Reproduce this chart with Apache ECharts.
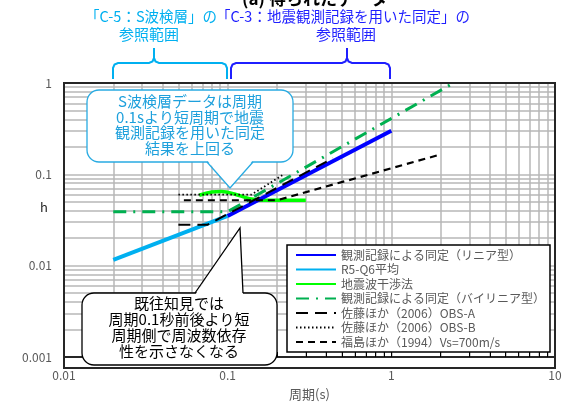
<!DOCTYPE html>
<html>
<head>
<meta charset="utf-8">
<script src="https://cdn.jsdelivr.net/npm/echarts@6/dist/echarts.min.js"></script>
<style>
  html, body { margin: 0; padding: 0; background: #fff; }
  #container { width: 567px; height: 406px; }
</style>
</head>
<body>
<div id="container"></div>
<script>
;(function() {

  var dom = document.getElementById('container')
  var myChart = echarts.init(dom)
  var FONT = '"Noto Sans CJK JP", "Noto Sans", sans-serif'

  // series names (legend order)
  var names = [
    '観測記録による同定（リニア型）',
    'R5-Q6平均',
    '地震波干渉法',
    '観測記録による同定（バイリニア型）',
    '佐藤ほか（2006）OBS-A',
    '佐藤ほか（2006）OBS-B',
    '福島ほか（1994）Vs=700m/s'
  ]

  // period (s) / damping h
  var linearT = [0.1, 1]
  var linearH = [0.035, 0.3]
  var r5q6T = [0.02, 0.1]
  var r5q6H = [0.0116, 0.035]
  var interfT = [0.067, 0.08, 0.092, 0.11, 0.136, 0.17, 0.3]
  var interfH = [0.059, 0.064, 0.065, 0.061, 0.054, 0.052, 0.052]
  var bilinT = [0.02, 0.1, 2.4]
  var bilinH = [0.039, 0.039, 1]
  var satoAT = [0.05, 0.075, 0.44]
  var satoAH = [0.028, 0.028, 0.15]
  var satoBT = [0.05, 0.14, 0.22]
  var satoBH = [0.06, 0.06, 0.1]
  var fukuT = [0.054, 0.2, 2]
  var fukuH = [0.052, 0.052, 0.165]

  var xTicks = [0.01, 0.1, 1, 10]
  var yTicks = [0.001, 0.01, 0.1, 1]

  function pairs(t, h) {
    var out = []
    for (var i = 0; i < t.length; i++) out.push([t[i], h[i]])
    return out
  }

  function line(name, t, h, color, width, type, z, smooth) {
    return {
      name: name,
      type: 'line',
      data: pairs(t, h),
      symbol: 'none',
      smooth: smooth || false,
      z: z,
      lineStyle: { color: color, width: width, type: type },
      itemStyle: { color: color }
    }
  }

  var series = [
    line(names[1], r5q6T, r5q6H, '#00b0f0', 4, 'solid', 2),
    line(names[0], linearT, linearH, '#0000ff', 4, 'solid', 3),
    line(names[2], interfT, interfH, '#00ff00', 3.5, 'solid', 2, 0.4),
    line(names[3], bilinT, bilinH, '#00b050', 3, [13, 7, 2, 7], 4),
    line(names[4], satoAT, satoAH, '#000000', 2, [12, 7], 5),
    line(names[5], satoBT, satoBH, '#000000', 1.8, [1.5, 2.5], 5),
    line(names[6], fukuT, fukuH, '#000000', 2.2, [7, 5], 5)
  ]

  // curly brace as a polyline (annotation shape)
  function brace(x0, x1, xp, color) {
    var yb = 79, yh = 63, yp = 48
    return {
      type: 'polyline', z: 60, silent: true,
      shape: { points: [[x0, yb], [x0, yh + 5], [x0 + 1.5, yh + 1.5], [x0 + 5, yh],
        [xp - 5, yh], [xp - 1.5, yh - 1.5], [xp, yh - 5], [xp, yp], [xp, yh - 5],
        [xp + 1.5, yh - 1.5], [xp + 5, yh], [x1 - 5, yh], [x1 - 1.5, yh + 1.5], [x1, yh + 5], [x1, yb]] },
      style: { fill: 'none', stroke: color, lineWidth: 2 }
    }
  }

  // speech bubble: rounded box + pointer
  function bubble(x, y, w, h, base0, tip, base1, color, baseY) {
    return [
      { type: 'rect', z: 60, silent: true, shape: { x: x, y: y, width: w, height: h, r: 12 },
        style: { fill: '#ffffff', stroke: color, lineWidth: 1.3 } },
      { type: 'polygon', z: 61, silent: true,
        shape: { points: [[base0[0], baseY], tip, [base1[0], baseY]] },
        style: { fill: '#ffffff', stroke: null } },
      { type: 'polyline', z: 62, silent: true, shape: { points: [base0, tip, base1] },
        style: { fill: 'none', stroke: color, lineWidth: 1.3 } }
    ]
  }

  var graphics = [
    { type: 'rect', z: 50, silent: true, shape: { x: 64, y: 83, width: 491, height: 285 },
      style: { fill: 'none', stroke: '#262626', lineWidth: 2 } },
    { type: 'text', x: 315, y: -10, z: 60,
      style: { text: '(a) 得られたデータ', fontSize: 17, fontWeight: 'bold', fill: '#000', align: 'center', fontFamily: FONT } },
    { type: 'text', x: 85, y: 9, z: 60,
      style: { text: '「C-5：S波検層」の', fontSize: 14.5, fill: '#00b0f0', fontFamily: FONT } },
    { type: 'text', x: 216, y: 9, z: 60,
      style: { text: '「C-3：地震観測記録を用いた同定」の', fontSize: 14.5, fill: '#1f1fff', fontFamily: FONT } },
    { type: 'text', x: 149, y: 27, z: 60,
      style: { text: '参照範囲', fontSize: 15, fill: '#00b0f0', align: 'center', fontFamily: FONT } },
    { type: 'text', x: 346, y: 27, z: 60,
      style: { text: '参照範囲', fontSize: 15, fill: '#1f1fff', align: 'center', fontFamily: FONT } },
    { type: 'text', x: 44, y: 207, z: 60,
      style: { text: 'h', fontSize: 13, fill: '#262626', align: 'center', verticalAlign: 'middle', fontFamily: FONT } },
    brace(113, 227, 154, '#00b0f0'),
    brace(231, 390, 347, '#1f1fff')
  ]
  graphics = graphics.concat(bubble(87, 90, 206, 72, [207, 162], [230, 188], [253, 162], '#29abe2', 160))
  graphics.push({ type: 'text', x: 190, y: 94, z: 63,
    style: { text: 'S波検層データは周期\n0.1sより短周期で地震\n観測記録を用いた同定\n結果を上回る',
      fontSize: 15, lineHeight: 15.5, fill: '#1ea0dc', align: 'center', fontFamily: FONT } })
  graphics = graphics.concat(bubble(82, 293, 195, 72, [195, 293], [240, 228], [243, 293], '#000000', 295))
  graphics.push({ type: 'text', x: 179, y: 295, z: 63,
    style: { text: '既往知見では\n周期0.1秒前後より短\n周期側で周波数依存\n性を示さなくなる',
      fontSize: 15, lineHeight: 16, fill: '#000000', align: 'center', fontFamily: FONT } })

  var option = {
    animation: false,
    textStyle: { fontFamily: FONT },
    grid: { left: 64, right: 12, top: 83, bottom: 38 },
    legend: {
      data: names,
      orient: 'vertical',
      left: 287,
      top: 245,
      itemWidth: 40,
      itemHeight: 14,
      itemGap: 2.5,
      padding: [4, 5, 4, 8],
      backgroundColor: '#ffffff',
      borderColor: '#000000',
      borderWidth: 1.5,
      borderRadius: 0,
      itemStyle: { opacity: 0 },
      textStyle: { fontSize: 12, color: '#595959', fontFamily: FONT }
    },
    xAxis: {
      type: 'log',
      logBase: 10,
      min: xTicks[0],
      max: xTicks[xTicks.length - 1],
      name: '周期(s)',
      nameLocation: 'middle',
      nameGap: 31,
      nameTextStyle: { fontSize: 13, color: '#595959' },
      axisLine: { lineStyle: { color: '#262626', width: 2 } },
      axisTick: { inside: true, length: 6, lineStyle: { color: '#000' } },
      minorTick: { show: true, splitNumber: 9, length: 5, lineStyle: { color: '#000' } },
      axisLabel: { fontSize: 12, color: '#595959', margin: 12 },
      splitLine: { show: true, lineStyle: { color: '#b8b8b8', width: 1.5 } },
      minorSplitLine: { show: true, lineStyle: { color: '#b8b8b8', width: 1.5 } }
    },
    yAxis: {
      type: 'log',
      logBase: 10,
      min: yTicks[0],
      max: yTicks[yTicks.length - 1],
      axisLine: { show: true, lineStyle: { color: '#262626', width: 2 } },
      axisTick: { show: false },
      axisLabel: { fontSize: 12, color: '#595959', margin: 12 },
      splitLine: { show: true, lineStyle: { color: '#b8b8b8', width: 1.5 } },
      minorTick: { show: false, splitNumber: 9 },
      minorSplitLine: { show: true, lineStyle: { color: '#b8b8b8', width: 1.5 } }
    },
    graphic: graphics,
    series: series
  }

  myChart.setOption(option, true)
})()
</script>
</body>
</html>
